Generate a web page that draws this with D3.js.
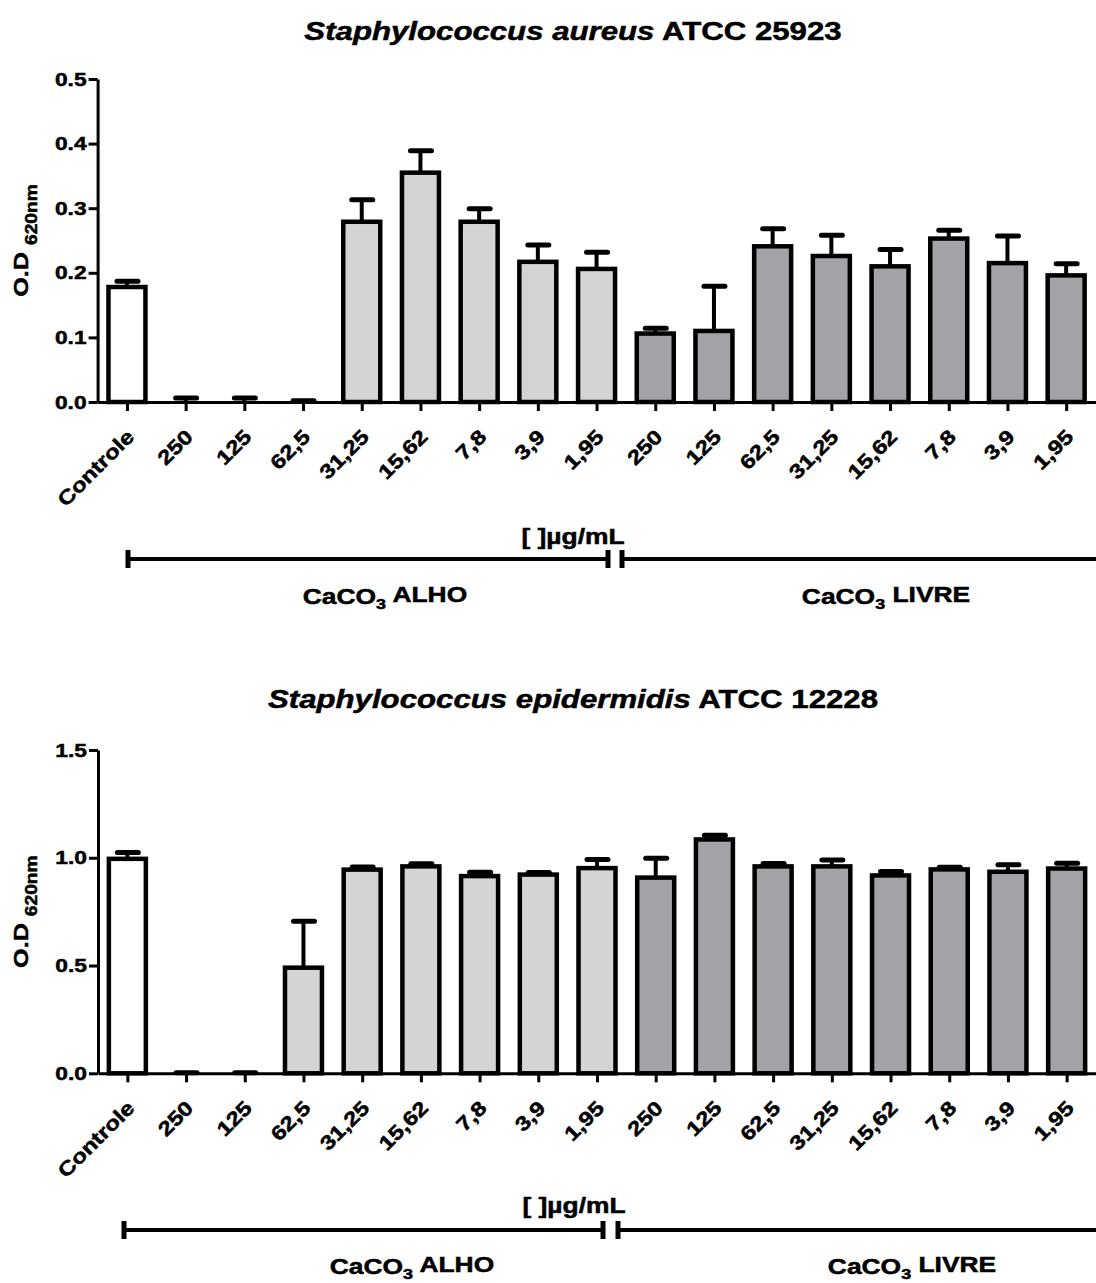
<!DOCTYPE html>
<html>
<head>
<meta charset="utf-8">
<script src="https://cdn.jsdelivr.net/npm/d3@7"></script>
<style>
  html, body { margin: 0; padding: 0; background: #fff; }
  svg { display: block; }
  text { font-family: "Liberation Sans", Arial, sans-serif; font-weight: bold; fill: #000;
         stroke: #000; stroke-width: 0.5px; paint-order: stroke; }
</style>
</head>
<body>
<svg id="chart" width="1096" height="1283"></svg>
<script>
// ---------------- DATA ----------------
const categories = ["Controle", "250", "125", "62,5", "31,25", "15,62", "7,8", "3,9", "1,95",
                    "250", "125", "62,5", "31,25", "15,62", "7,8", "3,9", "1,95"];
const groupOf = ["controle", "alho", "alho", "alho", "alho", "alho", "alho", "alho", "alho",
                 "livre", "livre", "livre", "livre", "livre", "livre", "livre", "livre"];

const aureusMeans  = [0.178, 0, 0, 0, 0.279, 0.355, 0.279, 0.217, 0.206,
                      0.106, 0.110, 0.241, 0.226, 0.210, 0.253, 0.215, 0.196];
const aureusErrors = [0.009, 0.006, 0.006, 0.002, 0.034, 0.034, 0.020, 0.026, 0.026,
                      0.008, 0.069, 0.027, 0.032, 0.026, 0.013, 0.042, 0.018];
const aureusTicks  = [0.0, 0.1, 0.2, 0.3, 0.4, 0.5];

const epiMeans  = [0.995, 0, 0, 0.49, 0.945, 0.96, 0.915, 0.922, 0.952,
                   0.908, 1.085, 0.96, 0.96, 0.918, 0.946, 0.935, 0.95];
const epiErrors = [0.03, 0.003, 0.003, 0.215, 0.012, 0.012, 0.018, 0.01, 0.04,
                   0.09, 0.02, 0.013, 0.03, 0.018, 0.01, 0.033, 0.025];
const epiTicks  = [0.0, 0.5, 1.0, 1.5];

const groupLabels = ["ALHO", "LIVRE"];
const unitLabel = "[ ]\u00B5g/mL";
const colors = { controle: "#ffffff", alho: "#d4d4d4", livre: "#a3a2a7" };

// ---------------- DRAW ----------------
const S = 1.2; // horizontal stretch of the original lettering
const svg = d3.select("#chart");

function placed(g, x, y, size, anchor) {
  return g.append("text")
    .attr("transform", `translate(${x},${y}) scale(${S},1)`)
    .attr("text-anchor", anchor || "middle")
    .style("font-size", size + "px");
}

function drawPanel(cfg) {
  const g = svg.append("g");

  // title
  const title = placed(g, cfg.titleX, cfg.titleY, 26);
  title.append("tspan").style("font-style", "italic").text(cfg.species);
  title.append("tspan").text(" " + cfg.strain);

  const x = d3.scalePoint()
    .domain(d3.range(categories.length))
    .range([cfg.left, cfg.right])
    .padding(0.5);
  const barW = x.step() * 0.63;

  const y = d3.scaleLinear().domain([0, cfg.max]).range([cfg.bottom, cfg.top]);

  // bars
  g.append("g").selectAll("rect")
    .data(cfg.means)
    .join("rect")
    .attr("x", (d, i) => x(i) - barW / 2)
    .attr("y", d => y(d))
    .attr("width", barW)
    .attr("height", d => y(0) - y(d))
    .attr("fill", (d, i) => colors[groupOf[i]])
    .attr("stroke", "#000")
    .attr("stroke-width", 4.5);

  // error bars
  const eb = g.append("g").selectAll("g")
    .data(cfg.means.map((m, i) => ({ m, e: cfg.errors[i], i })))
    .join("g");
  eb.append("line")
    .attr("x1", d => x(d.i)).attr("x2", d => x(d.i))
    .attr("y1", d => y(d.m)).attr("y2", d => y(d.m + d.e))
    .attr("stroke", "#000").attr("stroke-width", 4);
  eb.append("line")
    .attr("x1", d => x(d.i) - 10).attr("x2", d => x(d.i) + 11)
    .attr("y1", d => y(d.m + d.e)).attr("y2", d => y(d.m + d.e))
    .attr("stroke", "#000").attr("stroke-width", 5).attr("stroke-linecap", "round");

  // y axis
  const ya = g.append("g")
    .attr("transform", `translate(${cfg.left},0)`)
    .call(d3.axisLeft(y).tickValues(cfg.ticks).tickFormat(d3.format(".1f")).tickSize(9).tickSizeOuter(0));
  ya.select(".domain").attr("stroke-width", 3);
  ya.selectAll(".tick line").attr("stroke-width", 3);
  ya.selectAll(".tick text")
    .attr("x", 0)
    .attr("transform", `translate(-11,0) scale(${S},1)`)
    .style("font-size", "19px").style("font-family", "'Liberation Sans', Arial, sans-serif").style("font-weight", "bold");

  // x axis
  const xa = g.append("g")
    .attr("transform", `translate(0,${cfg.bottom})`)
    .call(d3.axisBottom(x).tickFormat(i => categories[i]).tickSize(9).tickSizeOuter(0));
  xa.select(".domain").attr("stroke-width", 3);
  xa.selectAll(".tick line").attr("stroke-width", 3);
  xa.selectAll(".tick text")
    .attr("x", 0).attr("y", 0).attr("dy", "0.35em")
    .attr("transform", `translate(3,31) rotate(-45) scale(${S},1)`)
    .style("text-anchor", "end")
    .style("font-size", "20px").style("font-family", "'Liberation Sans', Arial, sans-serif").style("font-weight", "bold");

  // y label
  const yl = g.append("text")
    .attr("transform", `translate(${cfg.yLabelX},${(cfg.top + cfg.bottom) / 2}) rotate(-90) scale(${S},1)`)
    .attr("text-anchor", "middle")
    .style("font-size", "21px");
  yl.append("tspan").text("O.D ");
  yl.append("tspan").attr("dy", "0.55em").style("font-size", "16px").text("620nm");

  // unit label
  placed(g, cfg.unitX, cfg.unitY, 22).text(unitLabel);

  // group brackets
  const br = g.append("g");
  cfg.brackets.forEach(b => {
    br.append("line").attr("x1", b[0]).attr("x2", b[1])
      .attr("y1", cfg.bracketY).attr("y2", cfg.bracketY)
      .attr("stroke", "#000").attr("stroke-width", 4);
    b.slice(2).forEach(cx => {
      br.append("line").attr("x1", cx).attr("x2", cx)
        .attr("y1", cfg.bracketY - 9).attr("y2", cfg.bracketY + 9)
        .attr("stroke", "#000").attr("stroke-width", 5);
    });
  });

  // group labels
  groupLabels.forEach((lab, k) => {
    const t = placed(g, cfg.groupLabelX[k], cfg.groupLabelY, 22);
    t.append("tspan").text("CaCO");
    t.append("tspan").attr("dy", "0.3em").style("font-size", "15px").text("3");
    t.append("tspan").attr("dy", "-0.3em").text(" " + lab);
  });
}

drawPanel({
  species: "Staphylococcus aureus", strain: "ATCC 25923",
  titleX: 573, titleY: 40,
  left: 97.6, right: 1095.5, top: 79, bottom: 402, max: 0.5,
  means: aureusMeans, errors: aureusErrors, ticks: aureusTicks,
  yLabelX: 28,
  unitX: 573, unitY: 544,
  bracketY: 559,
  brackets: [[128, 608, 128, 608], [622, 1096, 622]],
  groupLabelX: [385, 886], groupLabelY: 604
});

drawPanel({
  species: "Staphylococcus epidermidis", strain: "ATCC 12228",
  titleX: 573, titleY: 708,
  left: 98, right: 1096, top: 750, bottom: 1073.3, max: 1.5,
  means: epiMeans, errors: epiErrors, ticks: epiTicks,
  yLabelX: 28,
  unitX: 574, unitY: 1213,
  bracketY: 1230,
  brackets: [[124, 603, 124, 603], [618, 1096, 618]],
  groupLabelX: [412, 912], groupLabelY: 1274
});
</script>
</body>
</html>
